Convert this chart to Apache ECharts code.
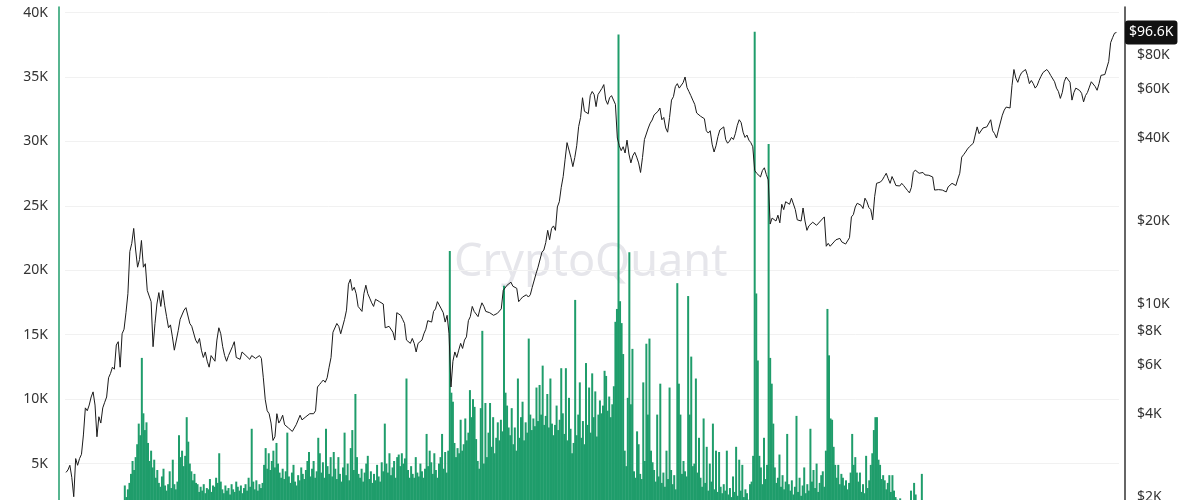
<!DOCTYPE html>
<html><head><meta charset="utf-8">
<script src="https://cdn.jsdelivr.net/npm/echarts@6/dist/echarts.min.js"></script>
<style>html,body{margin:0;padding:0;background:#fff}#main{width:1200px;height:500px}</style>
</head><body><div id="main"></div><script>
// ---- data (values in thousands) ----
const priceStart = '2017-06-25';
const priceStepDays = 5;
const priceK = [
2.45,2.5,2.6,2.35,2.0,2.75,2.6,2.75,2.85,3.35,
4.2,4.1,4.3,4.6,4.8,4.3,3.3,3.9,3.7,4.2,
4.4,4.6,5.4,5.6,5.9,5.8,7.1,7.3,5.9,7.8,
8.1,9.3,10.9,15.5,16.6,18.8,15.7,13.6,14.5,17.0,
13.6,14.0,11.2,11.1,10.2,7.0,8.5,10.0,11.0,9.8,
11.2,9.9,9.0,8.2,8.4,7.6,6.8,6.9,8.0,8.8,
8.9,9.5,9.7,9.6,8.5,8.3,8.2,7.4,7.2,7.5,
6.8,6.4,6.7,6.2,5.9,6.5,6.6,6.2,7.4,8.2,
7.8,7.0,6.5,6.2,6.5,6.4,7.0,7.3,6.4,6.5,
6.3,6.7,6.6,6.5,6.6,6.3,6.5,6.4,6.35,6.4,
6.5,6.35,5.4,4.5,4.1,4.0,3.7,3.2,3.3,4.0,
3.7,3.8,3.95,3.65,3.6,3.55,3.55,3.45,3.4,3.65,
3.6,3.95,3.8,3.8,3.9,3.85,4.0,4.0,4.0,4.1,
5.0,5.1,5.2,5.3,5.2,5.4,5.9,6.4,7.9,8.0,
8.5,8.3,7.8,7.8,8.8,9.5,11.8,12.3,11.2,11.5,
10.9,9.8,9.6,9.4,10.9,11.7,10.9,10.5,10.1,9.8,
10.4,10.3,10.2,10.1,10.0,8.2,8.2,8.3,8.3,7.9,
7.4,9.3,9.2,9.1,8.8,8.5,7.4,7.5,7.2,7.5,
7.2,6.7,7.2,7.2,7.4,7.8,8.1,8.7,8.7,8.6,
9.4,9.6,10.2,10.3,9.6,9.3,8.6,9.1,7.8,5.0,
6.2,6.7,6.4,6.8,7.2,6.9,7.4,7.6,8.7,9.0,
9.8,9.4,9.5,9.0,9.6,10.1,9.8,9.4,9.4,9.3,
9.2,9.1,9.2,9.25,9.2,9.6,11.2,11.3,11.7,11.8,
12.0,11.6,11.5,11.4,10.2,10.4,10.6,10.5,10.8,10.6,
10.8,11.5,11.5,12.9,13.6,13.7,15.4,15.7,16.7,18.5,
17.1,18.8,19.2,18.5,22.5,23.5,26.5,29.0,33.5,38.5,
38.0,34.0,31.5,34.0,37.5,44.0,47.5,56.0,50.0,49.3,
49.0,57.0,59.0,57.5,52.0,57.5,58.0,60.5,62.5,55.0,
53.0,56.0,57.0,56.5,53.0,40.0,37.5,36.0,37.2,35.3,
39.3,35.0,32.5,34.5,35.5,34.1,32.5,30.0,34.0,39.5,
39.3,43.5,45.3,46.5,48.5,47.7,50.0,51.4,46.6,47.5,
43.5,42.0,47.5,54.9,56.5,61.5,63.0,60.7,61.5,63.5,
66.6,61.0,59.0,57.0,54.9,53.0,49.3,48.5,48.0,47.7,
47.0,42.5,41.7,42.5,38.0,35.6,37.5,40.5,42.8,43.5,
43.9,39.5,38.3,39.0,40.2,39.5,41.5,44.5,46.6,45.5,
42.0,40.2,41.0,39.3,38.5,37.2,30.5,29.8,30.0,28.9,
30.5,31.2,29.5,28.2,19.5,20.5,20.7,20.0,21.0,19.7,
23.0,22.0,23.5,23.8,23.0,24.2,24.0,22.0,20.2,20.2,
20.0,22.3,20.0,18.5,19.2,19.3,19.8,19.5,19.3,19.0,
20.0,20.3,20.7,16.2,16.6,16.2,16.4,16.8,17.1,17.0,
17.3,16.8,16.8,16.5,16.5,17.4,20.7,21.1,22.5,23.2,
23.3,22.8,22.2,24.2,23.5,22.4,22.0,20.2,24.5,27.4,
27.5,27.7,28.2,29.0,29.8,28.5,27.4,29.0,28.0,26.9,
27.0,26.8,27.4,26.9,26.5,25.8,25.3,26.5,30.0,30.6,
30.5,29.8,30.2,30.0,29.4,29.2,29.3,29.2,28.9,25.9,
26.2,26.0,26.3,25.9,26.0,25.5,26.6,26.3,27.4,27.8,
26.9,28.4,29.8,34.1,34.8,35.6,36.5,37.2,36.8,38.3,
38.5,43.9,41.5,42.1,43.5,43.0,43.9,44.5,46.6,42.5,
41.5,40.0,42.8,42.5,48.4,50.5,51.8,51.8,51.4,62.0,
70.9,66.0,63.7,67.0,69.1,68.0,70.9,67.5,63.0,64.7,
63.0,60.7,62.0,64.7,67.0,69.1,68.0,70.9,69.5,67.5,
66.6,64.0,60.7,59.0,55.7,58.5,64.0,66.6,67.5,63.7,
54.9,58.5,60.7,61.5,59.5,58.1,54.1,57.0,58.5,61.2,
64.0,64.7,61.5,59.6,63.0,67.5,67.0,68.0,69.1,75.9,
88.7,92.5,96.0,96.6
];
const flowStart = '2017-11-24';
const flowStepDays = 4;
const flowK = [
3.3,2.4,3.0,3.5,4.2,5.2,4.5,5.5,6.5,8.1,
7.2,13.2,8.9,7.6,8.2,6.6,5.2,6.0,4.7,5.3,
3.9,4.5,3.5,3.2,4.0,4.6,3.3,2.9,3.4,4.4,
3.1,5.3,3.4,3.0,3.6,7.2,5.5,6.0,4.8,5.6,
8.6,6.7,5.0,4.4,3.7,4.2,3.5,3.4,2.8,3.2,
2.9,3.4,2.7,3.1,3.0,3.8,2.8,3.3,3.2,3.9,
3.5,5.8,3.6,3.0,2.7,3.3,2.9,3.1,2.6,3.4,
3.0,2.8,3.6,3.2,2.9,3.3,2.7,3.1,3.4,2.9,
3.9,3.2,7.7,3.6,3.0,3.7,2.9,3.4,3.1,3.5,
4.9,6.2,4.6,5.8,4.5,5.2,6.0,4.7,6.6,5.0,
4.3,3.9,4.6,3.8,4.4,7.4,4.0,3.5,4.3,4.9,
3.6,3.3,4.1,3.7,4.7,4.2,3.8,4.5,5.2,5.9,
4.0,4.6,5.2,3.9,4.4,7.0,5.8,4.3,5.1,3.9,
7.7,4.8,4.2,5.5,4.0,5.9,4.6,3.8,5.5,4.2,
3.6,4.7,7.4,4.1,5.0,3.7,6.2,7.6,4.5,10.4,
5.5,4.2,3.9,4.6,3.6,4.3,5.0,5.6,3.8,4.4,
3.5,4.2,3.7,4.9,4.0,3.6,5.1,4.4,8.1,5.0,
4.3,5.8,4.1,4.7,5.2,3.9,5.5,5.7,4.8,5.8,
5.0,5.4,11.6,4.5,3.9,4.8,4.2,3.9,5.5,4.3,
4.0,5.0,4.4,3.9,4.6,7.3,4.8,6.0,5.1,4.2,
5.8,4.5,3.9,5.0,5.5,7.3,4.6,5.9,4.3,6.0,
21.5,10.5,9.8,6.6,5.5,6.2,5.8,8.4,6.0,6.5,
8.5,6.8,7.4,10.7,8.6,10.0,9.4,6.9,5.2,4.6,
9.3,15.3,5.0,9.7,5.5,7.4,9.7,6.3,8.6,5.8,
7.0,8.2,6.8,8.4,7.5,18.8,10.5,9.5,7.8,7.2,
9.3,6.5,7.8,6.0,11.6,7.0,8.6,9.8,6.8,8.2,
7.4,14.7,8.8,7.6,8.5,7.9,10.9,8.3,11.1,8.8,
12.6,8.0,8.7,10.4,7.8,11.6,8.1,7.2,8.0,9.5,
7.6,8.4,12.4,8.9,7.3,12.4,6.8,10.1,7.7,5.8,
6.6,17.7,7.2,8.8,11.3,7.0,8.3,6.5,12.8,8.0,
10.9,7.4,12.0,8.6,10.6,7.1,8.8,9.9,8.9,9.5,
12.2,11.8,9.1,10.2,8.6,9.6,11.0,16.0,17.0,38.3,
17.6,15.9,13.5,6.0,4.8,10.1,21.4,9.6,13.9,4.4,
3.9,7.5,6.5,4.2,3.8,11.3,5.2,14.3,8.8,14.7,
6.0,5.1,4.5,3.6,8.8,4.0,11.2,3.5,4.3,3.2,
6.0,3.8,10.9,4.5,3.4,4.1,3.0,19.0,11.2,8.8,
4.2,5.2,4.4,4.0,18.0,8.8,13.3,4.8,5.0,11.6,
4.3,7.0,3.9,3.2,8.5,3.5,6.3,2.9,5.0,3.6,
8.1,3.0,6.0,2.8,5.9,3.2,2.7,3.4,2.9,6.0,
2.6,3.1,2.4,4.0,2.8,6.3,2.5,5.3,2.9,4.9,
2.4,3.0,2.7,2.2,3.4,3.6,5.6,38.5,18.2,13.0,
5.6,4.7,3.4,7.0,3.8,4.9,29.8,13.2,11.2,8.1,
4.7,3.5,3.9,5.7,3.2,4.1,3.0,3.6,7.3,3.4,
2.9,3.7,2.6,3.2,8.7,2.8,3.9,2.5,3.3,4.7,
2.7,3.4,2.9,7.7,3.6,4.5,3.1,5.0,2.8,3.5,
4.1,4.4,3.2,6.0,17.0,13.4,8.5,8.4,6.3,4.9,
3.9,4.9,3.4,4.2,3.9,3.3,3.7,3.0,3.5,4.3,
7.3,4.9,5.5,4.3,3.6,4.3,2.8,3.4,2.7,5.6,
3.1,3.7,4.9,5.8,7.6,8.6,8.6,5.3,4.9,3.8,
4.1,3.7,3.0,3.5,4.1,2.8,4.1,2.9,2.4,2.2,
1.9,2.3,1.7,2.0,1.6,1.9,1.5,1.8,2.9,2.0,
3.5,2.6,1.5,1.4,1.6,4.2
];
const leftTicksK = [0,5,10,15,20,25,30,35,40];
const rightTicksK = [2,4,6,8,10,20,40,60,80];
const lastPriceK = 96.6;
const axisEndDays = 2719;

// ---- build ----
const DAY = 86400000;
const t0 = Date.parse(priceStart + 'T00:00:00Z');
const f0 = Date.parse(flowStart + 'T00:00:00Z');
const priceData = priceK.map((v, i) => [t0 + i * priceStepDays * DAY, v]);
const flowData = flowK.map((v, j) => [f0 + j * flowStepDays * DAY, v]);

const chart = echarts.init(document.getElementById('main'), null, {renderer: 'canvas'});
const FONT = 'Noto Sans';
chart.setOption({
  animation: false,
  backgroundColor: '#ffffff',
  textStyle: {fontFamily: FONT},
  grid: {left: 65, right: 81, top: 7, height: 521, containLabel: false, outerBoundsMode: 'none'},
  graphic: [{
    type: 'text', left: 454, z: 0, silent: true,
    top: 241,
    style: {text: 'CryptoQuant', fill: '#e6e6eb', font: 'normal 45px "Noto Sans"'}
  }],
  xAxis: {type: 'time', min: t0, max: t0 + axisEndDays * DAY, show: false},
  yAxis: [{
    type: 'value', position: 'left', offset: 6,
    min: 0, max: 40.43, interval: 5,
    axisLine: {show: true, lineStyle: {color: '#1f9d6b', width: 1.5}},
    axisTick: {show: false},
    axisLabel: {color: '#333', fontSize: 14, margin: 11, fontFamily: FONT,
      showMaxLabel: false,
      formatter: v => leftTicksK.includes(v) ? v + 'K' : ''},
    splitLine: {show: true, showMaxLine: false, lineStyle: {color: '#f1f1f1', width: 1}}
  }, {
    type: 'log', position: 'right', offset: 6,
    min: 1.54, max: 119.5,
    axisLine: {show: true, lineStyle: {color: '#333', width: 1.5}},
    axisTick: {show: false},
    splitLine: {show: false},
    axisLabel: {color: '#333', fontSize: 14, margin: 12, fontFamily: FONT,
      customValues: rightTicksK,
      formatter: v => '$' + v + 'K'},
    axisPointer: {
      show: true, type: 'line', value: lastPriceK, status: 'show', snap: false,
      triggerTooltip: false,
      lineStyle: {opacity: 0},
      label: {show: true, backgroundColor: '#111', color: '#fff', fontSize: 14,
        fontFamily: FONT, padding: [5, 4, 5, 4], margin: 0,
        formatter: p => '$' + lastPriceK + 'K'}
    }
  }],
  series: [{
    type: 'bar', yAxisIndex: 0, data: flowData, barWidth: 2,
    itemStyle: {color: '#1f9d6b'}, z: 2, silent: true
  }, {
    type: 'line', yAxisIndex: 1, data: priceData, showSymbol: false,
    lineStyle: {color: '#1b1b1b', width: 1}, z: 3, silent: true
  }]
});
</script></body></html>
